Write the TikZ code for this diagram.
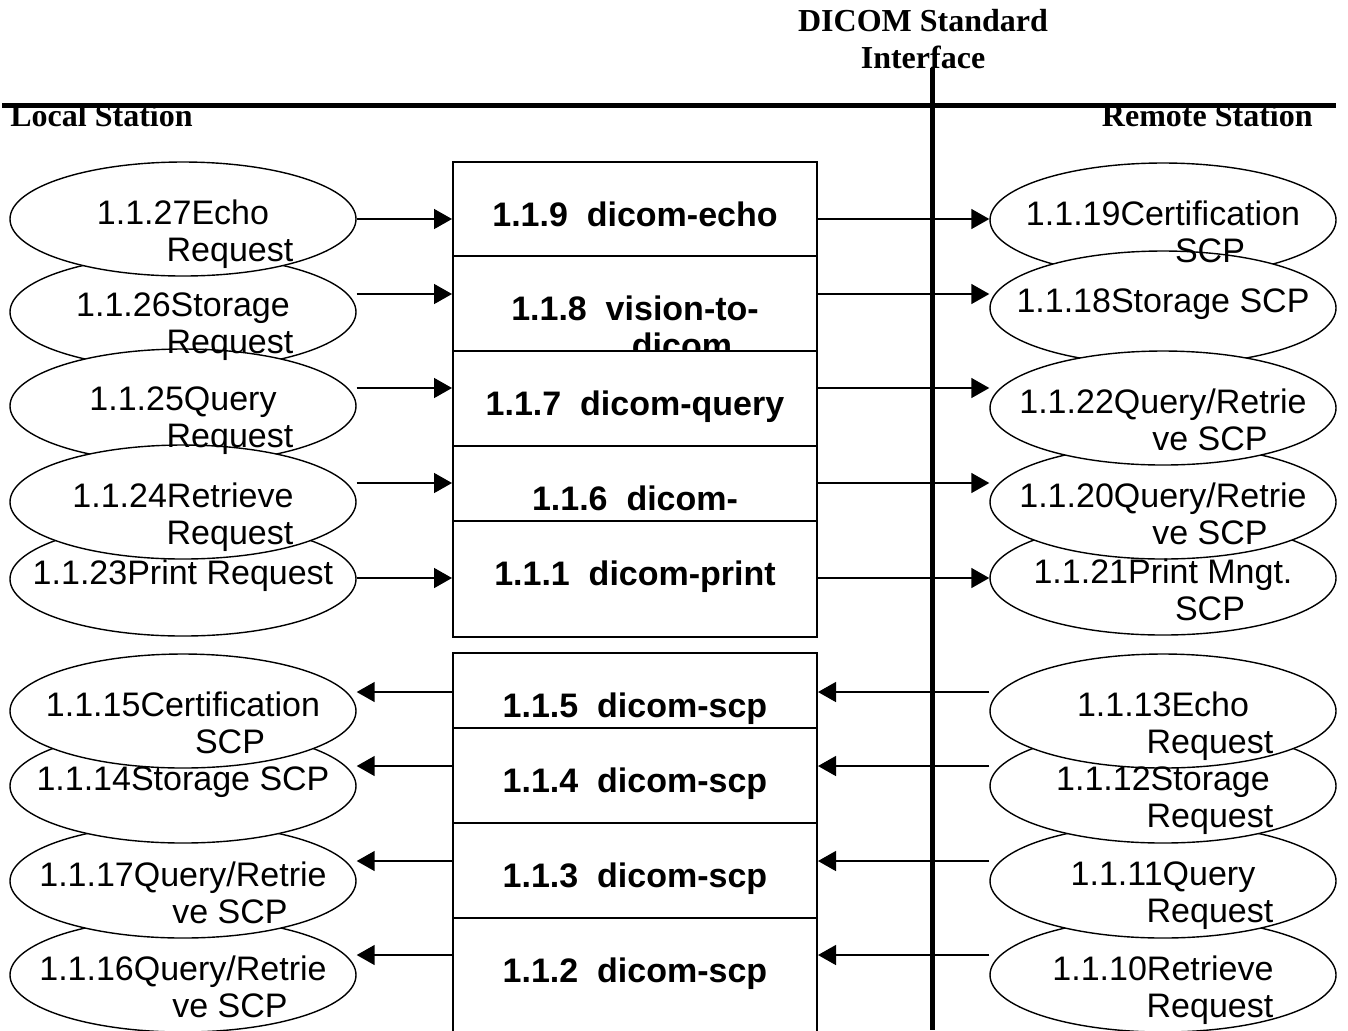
\documentclass[tikz,border=0pt]{standalone}
\usepackage{fontspec}
\setmainfont{Liberation Sans}
\newfontfamily\headfont{Liberation Serif}
\usetikzlibrary{shapes.geometric,arrows.meta}
\newcommand{\indnt}{\hspace*{47pt}}
\tikzset{
  oval/.style = {draw, fill=white, ellipse, line width=0.7pt, minimum width=173pt, minimum height=57pt, inner sep=0pt},
  otext/.style = {anchor=north, align=center, inner sep=0pt, font=\fontsize{17}{18.5}\selectfont},
  mod/.style = {draw, fill=white, rectangle, line width=1pt, minimum width=182pt, inner sep=0pt},
  mtext/.style = {anchor=north, align=center, inner sep=0pt, font=\fontsize{17}{18.5}\selectfont\bfseries},
  head/.style = {inner sep=0pt, font=\fontsize{16}{18.5}\selectfont\headfont\bfseries},
  arrow/.style = {line width=0.75pt, -{Triangle[length=9pt,width=10pt]}},
  bar/.style = {line width=2.5pt}
}
\begin{document}
\begin{tikzpicture}[x=0.5pt, y=-0.5pt]
\clip (0,0) rectangle (1348,1030);
\fill[white] (0,0) rectangle (1348,1030);

% headings
\node[head, anchor=north, align=center] (std) at (923,9) {DICOM Standard\\Interface};
\node[head, anchor=base west] (local) at (10,126) {Local Station};
\node[head, anchor=base east] (remote) at (1313,126) {Remote Station};

% local requests
\node[oval] (l26) at (183,312) {};
\node[oval] (l27) at (183,219) {};
\node[oval] (l25) at (183,406) {};
\node[oval] (l23) at (183,579) {};
\node[oval] (l24) at (183,502) {};
% remote scps
\node[oval] (r19) at (1163,220) {};
\node[oval] (r18) at (1163,308) {};
\node[oval] (r21) at (1163,578) {};
\node[oval] (r20) at (1163,502) {};
\node[oval] (r22) at (1163,408) {};
% local scps
\node[oval] (l16) at (183,975) {};
\node[oval] (l17) at (183,881) {};
\node[oval] (l14) at (183,786) {};
\node[oval] (l15) at (183,711) {};
% remote requests
\node[oval] (r10) at (1163,975) {};
\node[oval] (r11) at (1163,881) {};
\node[oval] (r12) at (1163,786) {};
\node[oval] (r13) at (1163,711) {};

\node[otext] (t27) at ([yshift=10pt]l27.center) {1.1.27Echo\\\indnt Request};
\node[otext] (t26) at ([yshift=10pt]l26.center) {1.1.26Storage\\\indnt Request};
\node[otext] (t25) at ([yshift=10pt]l25.center) {1.1.25Query\\\indnt Request};
\node[otext] (t24) at ([yshift=10pt]l24.center) {1.1.24Retrieve\\\indnt Request};
\node[otext] (t23) at ([yshift=10pt]l23.center) {1.1.23Print Request};
\node[otext] (t19) at ([yshift=10pt]r19.center) {1.1.19Certification\\\indnt SCP};
\node[otext] (t18) at ([yshift=10pt]r18.center) {1.1.18Storage SCP};
\node[otext] (t22) at ([yshift=10pt]r22.center) {1.1.22Query/Retrie\\\indnt ve SCP};
\node[otext] (t20) at ([yshift=10pt]r20.center) {1.1.20Query/Retrie\\\indnt ve SCP};
\node[otext] (t21) at ([yshift=10pt]r21.center) {1.1.21Print Mngt.\\\indnt SCP};
\node[otext] (t15) at ([yshift=10pt]l15.center) {1.1.15Certification\\\indnt SCP};
\node[otext] (t14) at ([yshift=10pt]l14.center) {1.1.14Storage SCP};
\node[otext] (t17) at ([yshift=10pt]l17.center) {1.1.17Query/Retrie\\\indnt ve SCP};
\node[otext] (t16) at ([yshift=10pt]l16.center) {1.1.16Query/Retrie\\\indnt ve SCP};
\node[otext] (t13) at ([yshift=10pt]r13.center) {1.1.13Echo\\\indnt Request};
\node[otext] (t12) at ([yshift=10pt]r12.center) {1.1.12Storage\\\indnt Request};
\node[otext] (t11) at ([yshift=10pt]r11.center) {1.1.11Query\\\indnt Request};
\node[otext] (t10) at ([yshift=10pt]r10.center) {1.1.10Retrieve\\\indnt Request};

% outgoing modules
\node[mod, minimum height=47pt] (b9) at (635,209) {};
\node[mtext] (m9) at ([yshift=-20pt]b9.north) {1.1.9\ \ dicom-echo};
\node[mod, minimum height=47.5pt] (b8) at (635,303.5) {};
\node[mtext] (m8) at ([yshift=-20pt]b8.north) {1.1.8\ \ vision-to-\\\indnt dicom};
\node[mod, minimum height=47.5pt] (b7) at (635,398.5) {};
\node[mtext] (m7) at ([yshift=-20pt]b7.north) {1.1.7\ \ dicom-query};
\node[mod, minimum height=47.5pt] (b6) at (635,493.5) {};
\node[mtext] (m6) at ([yshift=-20pt]b6.north) {1.1.6\ \ dicom-};
\node[mod, minimum height=58pt] (b1) at (635,579) {};
\node[mtext] (m1) at ([yshift=-20pt]b1.north) {1.1.1\ \ dicom-print};

% incoming modules
\node[mod, minimum height=47.5pt] (b5) at (635,700.5) {};
\node[mtext] (m5) at ([yshift=-20pt]b5.north) {1.1.5\ \ dicom-scp};
\node[mod, minimum height=47.5pt] (b4) at (635,775.5) {};
\node[mtext] (m4) at ([yshift=-20pt]b4.north) {1.1.4\ \ dicom-scp};
\node[mod, minimum height=47.5pt] (b3) at (635,870.5) {};
\node[mtext] (m3) at ([yshift=-20pt]b3.north) {1.1.3\ \ dicom-scp};
\node[mod, minimum height=61pt] (b2) at (635,979) {};
\node[mtext] (m2) at ([yshift=-20pt]b2.north) {1.1.2\ \ dicom-scp};

% connectors
\foreach \l/\b/\r/\y in {l27/b9/r19/219, l26/b8/r18/294, l25/b7/r22/388, l24/b6/r20/483, l23/b1/r21/578}{
  \draw[arrow] (\l.east |- 0,\y) -- (\b.west |- 0,\y);
  \draw[arrow] (\b.east |- 0,\y) -- (\r.west |- 0,\y);
}
\foreach \l/\b/\r/\y in {l15/b5/r13/692, l14/b4/r12/766, l17/b3/r11/861, l16/b2/r10/955}{
  \draw[arrow] (\r.west |- 0,\y) -- (\b.east |- 0,\y);
  \draw[arrow] (\b.west |- 0,\y) -- (\l.east |- 0,\y);
}

% station border and interface
\draw[bar] (2,105) -- (1336,105);
\draw[bar] (932,68) -- (932,1030);
\end{tikzpicture}
\end{document}
